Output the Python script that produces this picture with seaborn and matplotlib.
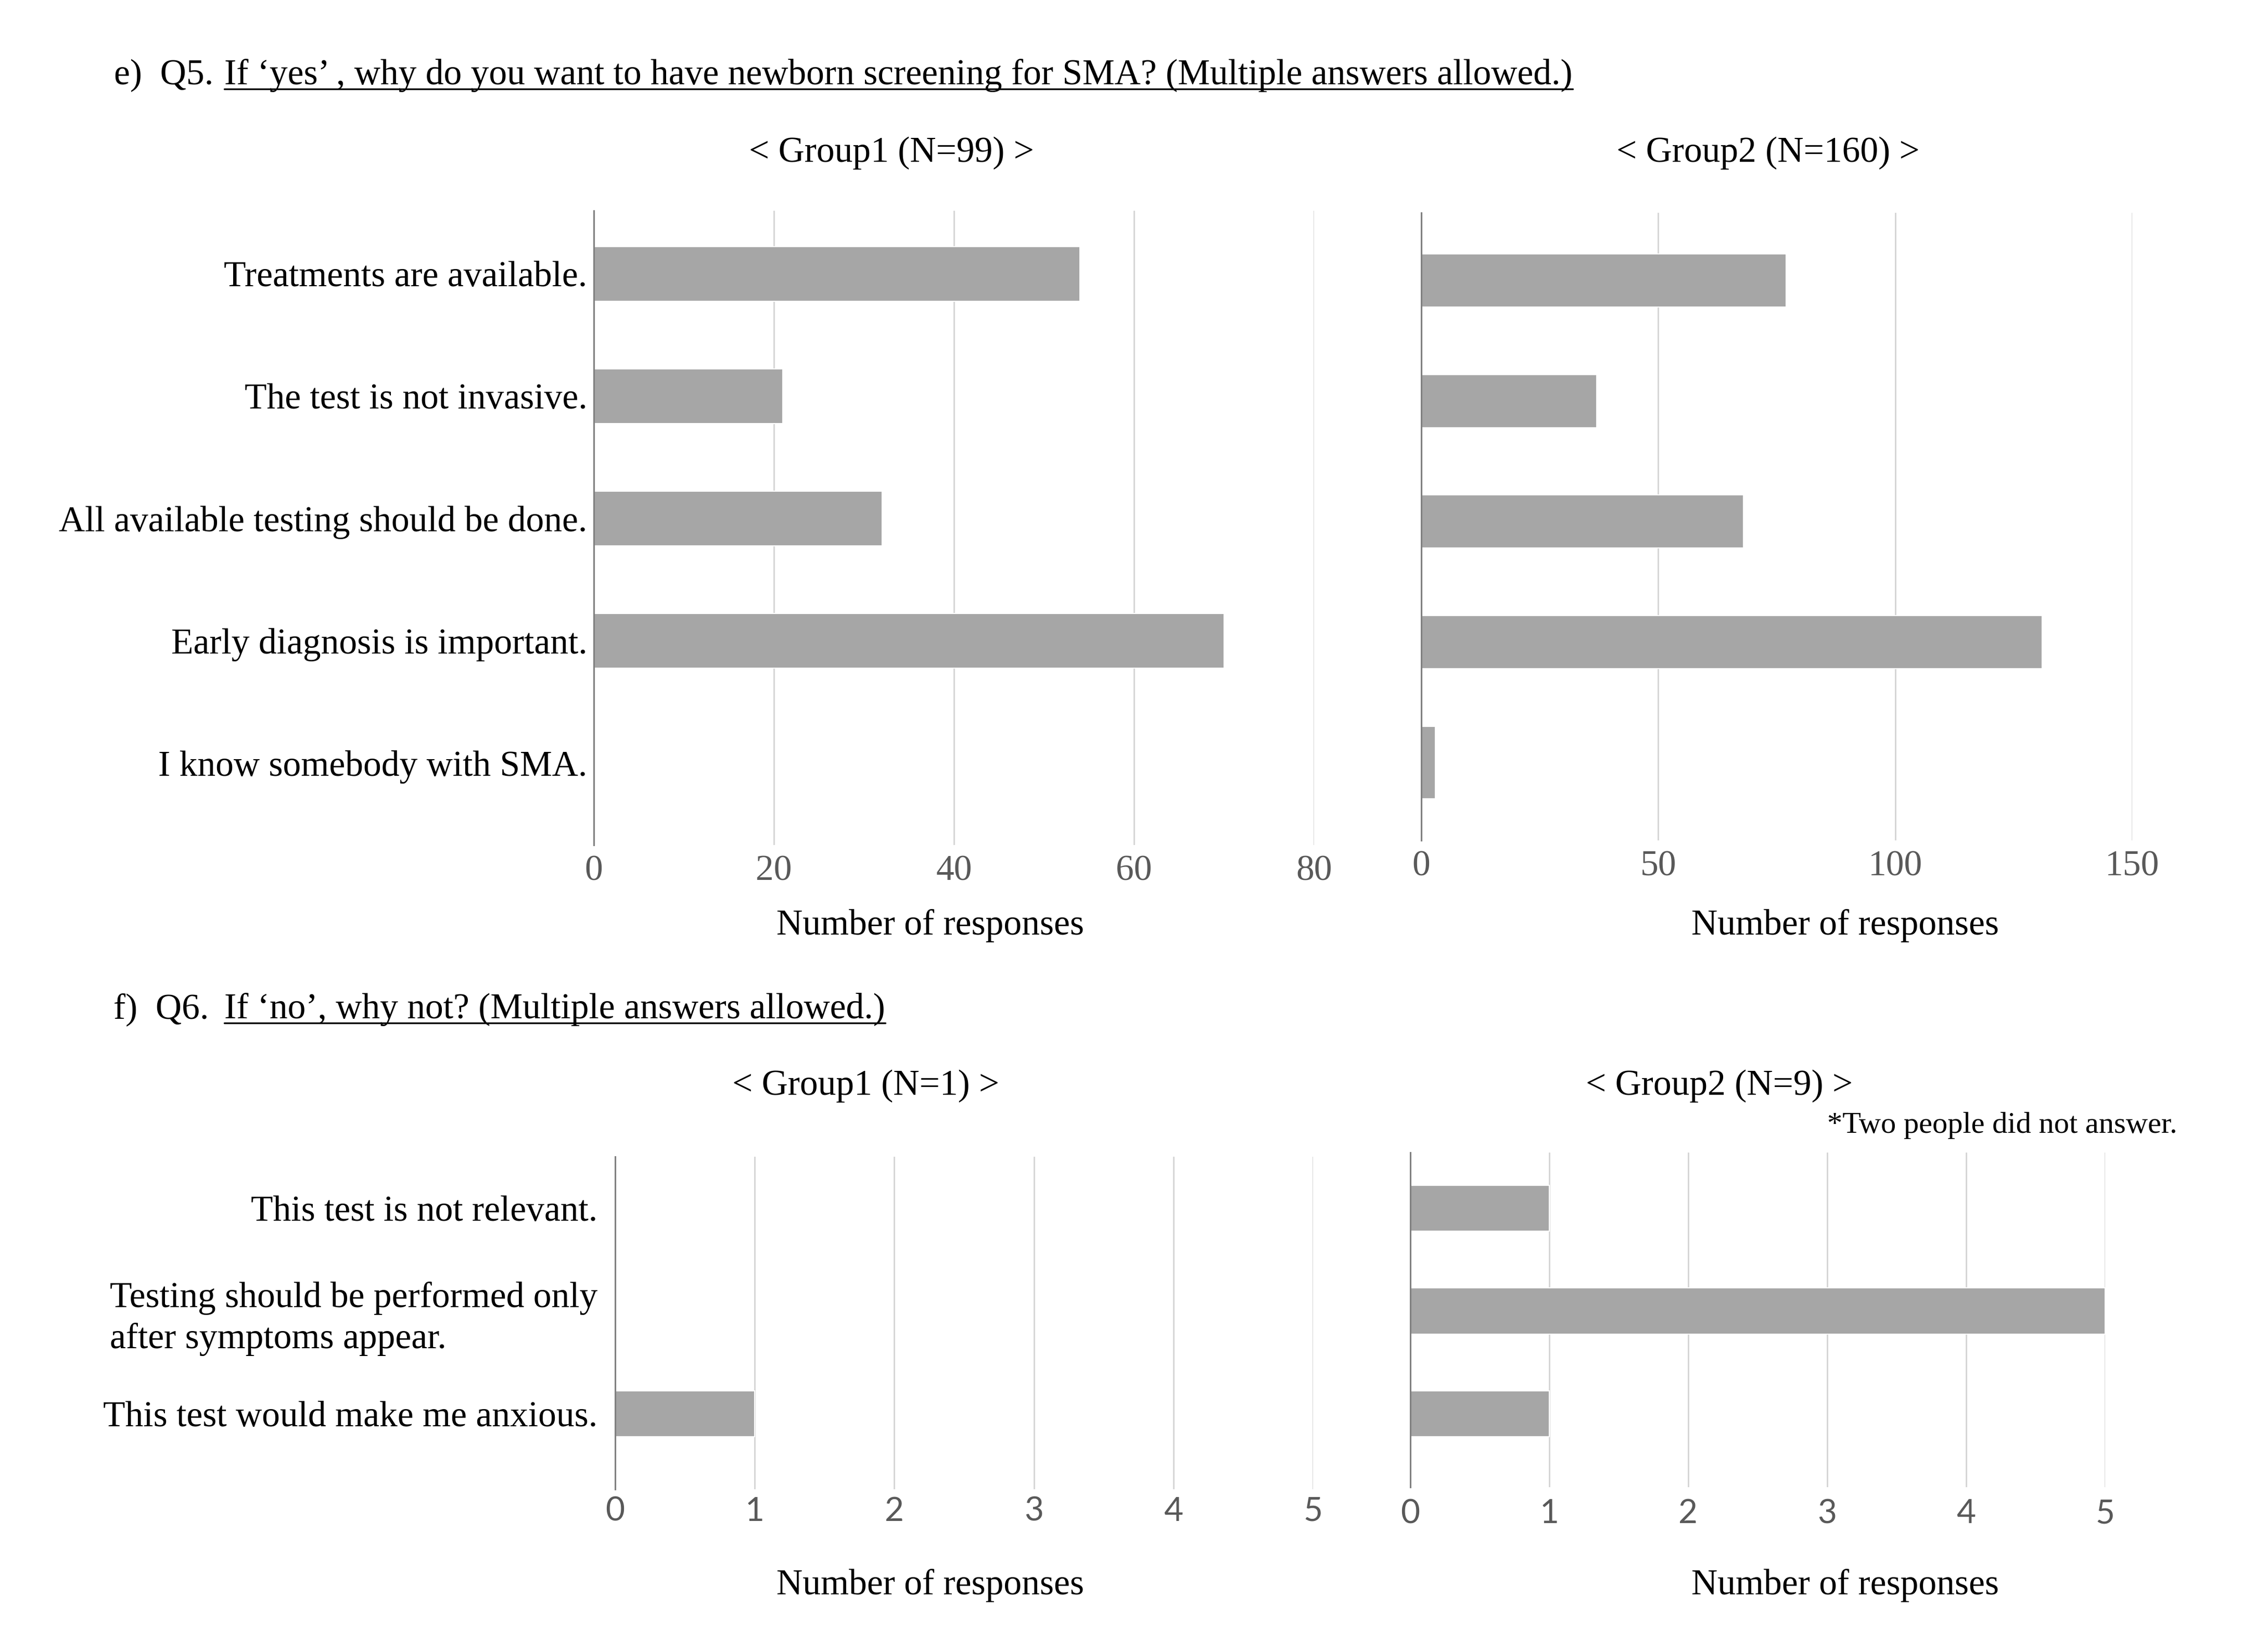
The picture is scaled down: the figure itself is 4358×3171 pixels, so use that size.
import matplotlib
matplotlib.use("Agg")
import matplotlib.pyplot as plt
from matplotlib.lines import Line2D
import seaborn as sns
import pandas as pd

# ---------------- data ----------------
q5_categories = ["Treatments are available.", "The test is not invasive.",
                 "All available testing should be done.", "Early diagnosis is important.",
                 "I know somebody with SMA."]
q5_group1 = [54, 21, 32, 70, 0]
q5_group2 = [77, 37, 68, 131, 3]

q6_categories = ["This test is not relevant.",
                 "Testing should be performed only\nafter symptoms appear.",
                 "This test would make me anxious."]
q6_group1 = [0, 0, 1]
q6_group2 = [1, 5, 1]

q5_ticks_g1 = [0, 20, 40, 60, 80]
q5_ticks_g2 = [0, 50, 100, 150]
q6_ticks = [0, 1, 2, 3, 4, 5]

title_e_prefix = "e)  Q5. "
title_e = "If \u2018yes\u2019 , why do you want to have newborn screening for SMA? (Multiple answers allowed.)"
title_f_prefix = "f)  Q6. "
title_f = "If \u2018no\u2019, why not? (Multiple answers allowed.)"
hdr_e1 = "< Group1 (N=99) >"
hdr_e2 = "< Group2 (N=160) >"
hdr_f1 = "< Group1 (N=1) >"
hdr_f2 = "< Group2 (N=9) >"
note_f2 = "*Two people did not answer."
xlabel = "Number of responses"

# ---------------- style ----------------
sns.set_theme(style="white")
plt.rcParams["font.family"] = ["Liberation Serif", "DejaVu Serif"]
SERIF = ["Liberation Serif", "DejaVu Serif"]
SANS = ["Liberation Sans Narrow", "Lato", "DejaVu Sans"]

W, H = 4358, 3171
fig = plt.figure(figsize=(W / 100, H / 100), dpi=100)
fig.patch.set_facecolor("white")

BAR = "#a6a6a6"
GRID = "#d4d4d4"
SPINE = "#808080"
TICK = "#595959"
FS = 50


def make_axes(x0, x1, ytop, ybot):
    return fig.add_axes([x0 / W, 1 - ybot / H, (x1 - x0) / W, (ybot - ytop) / H])


def draw(ax, cats, vals, ticks, xmax, ylim, width, show_labels, tick_font, tick_fs, tick_pad, ypad):
    df = pd.DataFrame({"cat": cats, "val": vals})
    sns.barplot(data=df, x="val", y="cat", orient="h", color=BAR, width=width,
                edgecolor="white", linewidth=1.5, saturation=1, ax=ax, zorder=3)
    ax.set_xlim(0, xmax)
    ax.set_ylim(*ylim)
    ax.set_xticks(ticks)
    ax.set_xticklabels([str(t) for t in ticks], fontsize=tick_fs, color=TICK, family=tick_font)
    ax.tick_params(axis="x", length=0, pad=tick_pad)
    ax.tick_params(axis="y", length=0, pad=ypad)
    ax.set_xlabel("")
    ax.set_ylabel("")
    ax.grid(axis="x", color=GRID, linewidth=2.0, zorder=0)
    ax.grid(axis="y", visible=False)
    ax.set_axisbelow(True)
    for s in ["top", "right", "bottom"]:
        ax.spines[s].set_visible(False)
    ax.spines["left"].set_color(SPINE)
    ax.spines["left"].set_linewidth(2.2)
    ax.spines["left"].set_zorder(5)
    ax.set_yticks(range(len(cats)))
    if show_labels:
        ax.set_yticklabels(cats, fontsize=FS, color="black", family=SERIF)
        for lab in ax.get_yticklabels():
            lab.set_multialignment("left")
            lab.set_linespacing(1.3)
    else:
        ax.set_yticklabels([])
    ax.set_facecolor("white")


# ---- e) Q5 ----
ax1 = make_axes(1141, 2525, 405, 1624)
draw(ax1, q5_categories, q5_group1, q5_ticks_g1, 80, (4.672, -0.515), 0.447, True, SERIF, FS, 14, 9)
ax2 = make_axes(2731, 4097, 409, 1615)
draw(ax2, q5_categories, q5_group2, q5_ticks_g2, 150, (4.644, -0.561), 0.44, False, SERIF, FS, 14, 9)
# the last bar in the reference is drawn slightly taller
p = ax2.patches[4]
p.set_y(4 - 0.3)
p.set_height(0.6)

# ---- f) Q6 ----
ax3 = make_axes(1182, 2523, 2223, 2862)
draw(ax3, q6_categories, q6_group1, q6_ticks, 5, (2.734, -0.501), 0.45, True, SANS, 46, 10, 24)
ax4 = make_axes(2710, 4045, 2215, 2858)
draw(ax4, q6_categories, q6_group2, q6_ticks, 5, (2.714, -0.542), 0.45, False, SANS, 46, 16, 9)


def ftext(x, y, s, **kw):
    kw.setdefault("fontsize", FS)
    kw.setdefault("family", SERIF)
    kw.setdefault("color", "black")
    return fig.text(x / W, 1 - y / H, s, **kw)


def underlined(x, y, s):
    t = ftext(x, y, s, ha="left", va="center")
    r = fig.canvas.get_renderer()
    bb = t.get_window_extent(r)
    yl = bb.y0 + 6
    fig.add_artist(Line2D([bb.x0 / W, bb.x1 / W], [yl / H, yl / H],
                          transform=fig.transFigure, color="black", linewidth=2.4))
    return t


# titles
ftext(219, 145, title_e_prefix, ha="left", va="center")
underlined(431, 145, title_e)
ftext(218, 1940, title_f_prefix, ha="left", va="center")
underlined(431, 1940, title_f)

# group headers
ftext(1713, 294, hdr_e1, ha="center", va="center")
ftext(3397, 294, hdr_e2, ha="center", va="center")
ftext(1664, 2087, hdr_f1, ha="center", va="center")
ftext(3304, 2087, hdr_f2, ha="center", va="center")
ftext(4184, 2163, note_f2, ha="right", va="center", fontsize=42)

# axis labels
ftext(1788, 1779, xlabel, ha="center", va="center")
ftext(3546, 1779, xlabel, ha="center", va="center")
ftext(1788, 3047, xlabel, ha="center", va="center")
ftext(3546, 3047, xlabel, ha="center", va="center")

fig.savefig("out.png", dpi=100, facecolor="white")
